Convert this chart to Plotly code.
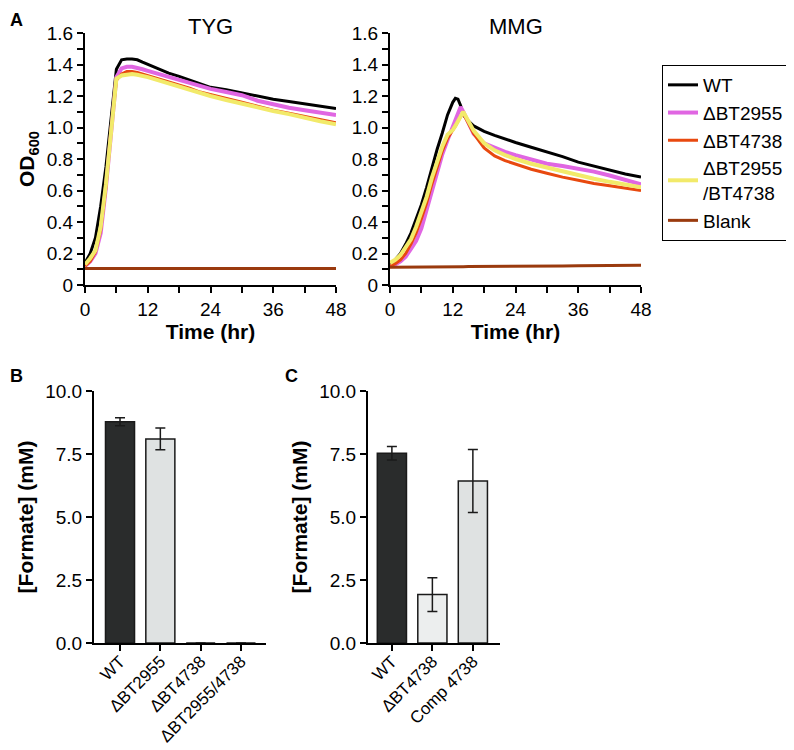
import plotly.graph_objects as go

# ---------------- data ----------------
time_hr = [0, 1, 2, 3, 4, 5, 6, 7, 8, 9, 10, 11, 12, 12.5, 13, 13.5, 14, 15, 16, 18, 20, 22, 24, 27, 30, 33, 36, 39, 42, 45, 48]

series_names = ["WT", "ΔBT2955", "ΔBT4738", "ΔBT2955<br>/BT4738", "Blank"]
series_colors = ["#000000", "#e066e2", "#e8490f", "#f2ea6a", "#9a3a0e"]
series_widths = [3, 4, 3, 4, 3]

tyg_wt = [0.14, 0.20, 0.30, 0.50, 0.75, 1.08, 1.37, 1.43, 1.435, 1.435, 1.43, 1.415, 1.40, 1.395, 1.39, 1.38, 1.37, 1.355, 1.345, 1.325, 1.30, 1.275, 1.255, 1.24, 1.22, 1.20, 1.18, 1.165, 1.15, 1.135, 1.12]
tyg_2955 = [0.12, 0.15, 0.20, 0.33, 0.62, 0.98, 1.32, 1.375, 1.385, 1.385, 1.38, 1.37, 1.36, 1.355, 1.35, 1.345, 1.34, 1.33, 1.32, 1.30, 1.28, 1.26, 1.245, 1.225, 1.205, 1.17, 1.145, 1.125, 1.11, 1.095, 1.08]
tyg_4738 = [0.12, 0.15, 0.21, 0.35, 0.62, 0.99, 1.30, 1.34, 1.355, 1.355, 1.35, 1.34, 1.33, 1.325, 1.32, 1.315, 1.31, 1.30, 1.29, 1.27, 1.25, 1.225, 1.21, 1.185, 1.16, 1.135, 1.11, 1.09, 1.07, 1.05, 1.03]
tyg_double = [0.13, 0.17, 0.22, 0.37, 0.64, 1.00, 1.31, 1.33, 1.335, 1.34, 1.335, 1.33, 1.32, 1.315, 1.31, 1.305, 1.30, 1.29, 1.28, 1.26, 1.24, 1.215, 1.20, 1.175, 1.15, 1.13, 1.105, 1.085, 1.06, 1.04, 1.02]
tyg_blank = [0.105, 0.105, 0.105, 0.105, 0.105, 0.105, 0.105, 0.105, 0.105, 0.105, 0.105, 0.105, 0.105, 0.105, 0.105, 0.105, 0.105, 0.105, 0.105, 0.105, 0.105, 0.105, 0.105, 0.105, 0.105, 0.105, 0.105, 0.105, 0.105, 0.105, 0.105]

mmg_wt = [0.13, 0.16, 0.20, 0.26, 0.33, 0.42, 0.51, 0.62, 0.745, 0.86, 0.965, 1.08, 1.16, 1.185, 1.18, 1.14, 1.08, 1.04, 1.01, 0.975, 0.95, 0.925, 0.905, 0.875, 0.845, 0.815, 0.78, 0.755, 0.73, 0.705, 0.685]
mmg_2955 = [0.12, 0.13, 0.15, 0.18, 0.23, 0.28, 0.36, 0.48, 0.60, 0.72, 0.83, 0.92, 1.00, 1.04, 1.08, 1.13, 1.10, 1.03, 0.96, 0.90, 0.87, 0.845, 0.825, 0.80, 0.77, 0.755, 0.74, 0.72, 0.695, 0.665, 0.64]
mmg_4738 = [0.12, 0.135, 0.16, 0.20, 0.26, 0.33, 0.42, 0.52, 0.64, 0.75, 0.85, 0.93, 0.98, 1.01, 1.04, 1.07, 1.09, 1.02, 0.96, 0.87, 0.82, 0.79, 0.77, 0.735, 0.71, 0.685, 0.665, 0.645, 0.63, 0.615, 0.60]
mmg_double = [0.14, 0.16, 0.19, 0.24, 0.29, 0.37, 0.46, 0.56, 0.68, 0.79, 0.88, 0.955, 0.985, 1.01, 1.04, 1.07, 1.10, 1.04, 0.98, 0.90, 0.855, 0.825, 0.80, 0.77, 0.745, 0.72, 0.695, 0.675, 0.655, 0.635, 0.62]
mmg_blank = [0.112, 0.112, 0.112, 0.113, 0.113, 0.113, 0.114, 0.114, 0.114, 0.115, 0.115, 0.115, 0.116, 0.116, 0.116, 0.116, 0.116, 0.117, 0.117, 0.118, 0.118, 0.119, 0.119, 0.120, 0.121, 0.121, 0.122, 0.123, 0.123, 0.124, 0.125]

od_tickvals = [0, 0.2, 0.4, 0.6, 0.8, 1.0, 1.2, 1.4, 1.6]
od_ticktext = ["0", "0.2", "0.4", "0.6", "0.8", "1.0", "1.2", "1.4", "1.6"]
time_tickvals = [0, 12, 24, 36, 48]

b_cats = ["WT", "ΔBT2955", "ΔBT4738", "ΔBT2955/4738"]
b_vals = [8.78, 8.1, 0, 0]
b_err = [0.16, 0.43, 0, 0]
b_colors = ["#2a2c2c", "#dfe2e2", "#dfe2e2", "#dfe2e2"]

c_cats = ["WT", "ΔBT4738", "Comp 4738"]
c_vals = [7.53, 1.92, 6.43]
c_err = [0.27, 0.67, 1.25]
c_colors = ["#2a2c2c", "#eceeee", "#dfe2e2"]

formate_tickvals = [0, 2.5, 5, 7.5, 10]
formate_ticktext = ["0.0", "2.5", "5.0", "7.5", "10.0"]

# ---------------- figure ----------------
FONT = "Arial, Liberation Sans, sans-serif"
W, H = 794, 750

def fx(px):
    return px / W

def fy(py):
    return 1 - py / H

fig = go.Figure()

tyg = [tyg_wt, tyg_2955, tyg_4738, tyg_double, tyg_blank]
mmg = [mmg_wt, mmg_2955, mmg_4738, mmg_double, mmg_blank]
for i in range(5):
    fig.add_trace(go.Scatter(x=time_hr, y=tyg[i], mode="lines", name=series_names[i],
                             line=dict(color=series_colors[i], width=series_widths[i]),
                             xaxis="x", yaxis="y", showlegend=True, legendrank=i + 1))
for i in range(5):
    fig.add_trace(go.Scatter(x=time_hr, y=mmg[i], mode="lines", name=series_names[i],
                             line=dict(color=series_colors[i], width=series_widths[i]),
                             xaxis="x2", yaxis="y2", showlegend=False))

fig.add_trace(go.Bar(x=b_cats, y=b_vals, marker=dict(color=b_colors, line=dict(color="#1a1a1a", width=1.5)),
                     width=0.72,
                     error_y=dict(type="data", array=b_err, color="#1a1a1a", thickness=1.5, width=5),
                     xaxis="x3", yaxis="y3", showlegend=False))
fig.add_trace(go.Bar(x=c_cats, y=c_vals, marker=dict(color=c_colors, line=dict(color="#1a1a1a", width=1.5)),
                     width=0.72,
                     error_y=dict(type="data", array=c_err, color="#1a1a1a", thickness=1.5, width=5),
                     xaxis="x4", yaxis="y4", showlegend=False))

tickfont = dict(family=FONT, size=19, color="black")
titlefont = dict(family=FONT, size=21, color="black")

axis_common = dict(showline=True, linecolor="black", linewidth=2, ticks="outside", ticklen=6,
                   tickwidth=2, tickcolor="black", showgrid=False, zeroline=False,
                   tickfont=tickfont, automargin=False)

line_y_dom = [fy(277), fy(25)]

def time_axis(dom, anchor):
    return dict(axis_common, domain=dom, anchor=anchor, range=[0, 48], tickmode="array",
                tickvals=time_tickvals, ticktext=[str(v) for v in time_tickvals],
                minor=dict(tickmode="linear", tick0=0, dtick=6, ticks="outside", ticklen=6,
                           tickwidth=2, tickcolor="black"),
                title=dict(text="<b>Time (hr)</b>", font=titlefont, standoff=2))

def od_axis(anchor, title):
    d = dict(axis_common, domain=line_y_dom, anchor=anchor, range=[0, 1.6], tickmode="array",
             tickvals=od_tickvals, ticktext=od_ticktext,
             minor=dict(tickmode="linear", tick0=0, dtick=0.1, ticks="outside", ticklen=6,
                        tickwidth=2, tickcolor="black"))
    if title:
        d["title"] = dict(text=title, font=titlefont, standoff=6)
    return d

bar_y_dom = [fy(635), fy(383)]

def formate_axis(anchor):
    return dict(axis_common, domain=bar_y_dom, anchor=anchor, range=[0, 10], tickmode="array",
                tickvals=formate_tickvals, ticktext=formate_ticktext,
                title=dict(text="<b>[Formate] (mM)</b>", font=titlefont, standoff=6))

def cat_axis(dom, anchor, rng):
    return dict(axis_common, domain=dom, anchor=anchor, type="category", range=rng,
                tickangle=-45, ticklabelstandoff=-6,
                tickfont=dict(family=FONT, size=17, color="black"))

fig.update_layout(
    width=W, height=H,
    margin=dict(l=0, r=0, t=0, b=0),
    paper_bgcolor="white", plot_bgcolor="white",
    font=dict(family=FONT, color="black"),
    xaxis=time_axis([fx(77), fx(328)], "y"),
    yaxis=od_axis("x", "<b>OD<sub>600</sub></b>"),
    xaxis2=time_axis([fx(382), fx(633)], "y2"),
    yaxis2=od_axis("x2", None),
    xaxis3=cat_axis([fx(86), fx(258)], "y3", [-0.645, 3.62]),
    yaxis3=formate_axis("x3"),
    xaxis4=cat_axis([fx(360), fx(492)], "y4", [-0.59, 2.67]),
    yaxis4=formate_axis("x4"),
    legend=dict(x=fx(654), y=fy(57), xanchor="left", yanchor="top",
                bordercolor="black", borderwidth=1, bgcolor="white",
                font=dict(family=FONT, size=19, color="black"), tracegroupgap=0),
)

annotations = [
    dict(text="<b>A</b>", x=fx(8), y=fy(12)),
    dict(text="<b>B</b>", x=fx(8), y=fy(368)),
    dict(text="<b>C</b>", x=fx(283), y=fy(368)),
]
for a in annotations:
    a.update(xref="paper", yref="paper", showarrow=False, xanchor="center", yanchor="middle",
             font=dict(family=FONT, size=18, color="black"))
annotations += [
    dict(text="TYG", x=0.5, xref="x domain", y=fy(18), yref="paper", showarrow=False,
         xanchor="center", yanchor="middle", font=dict(family=FONT, size=22, color="black")),
    dict(text="MMG", x=0.5, xref="x2 domain", y=fy(18), yref="paper", showarrow=False,
         xanchor="center", yanchor="middle", font=dict(family=FONT, size=22, color="black")),
]
fig.update_layout(annotations=annotations)

fig.write_html("out.html")
